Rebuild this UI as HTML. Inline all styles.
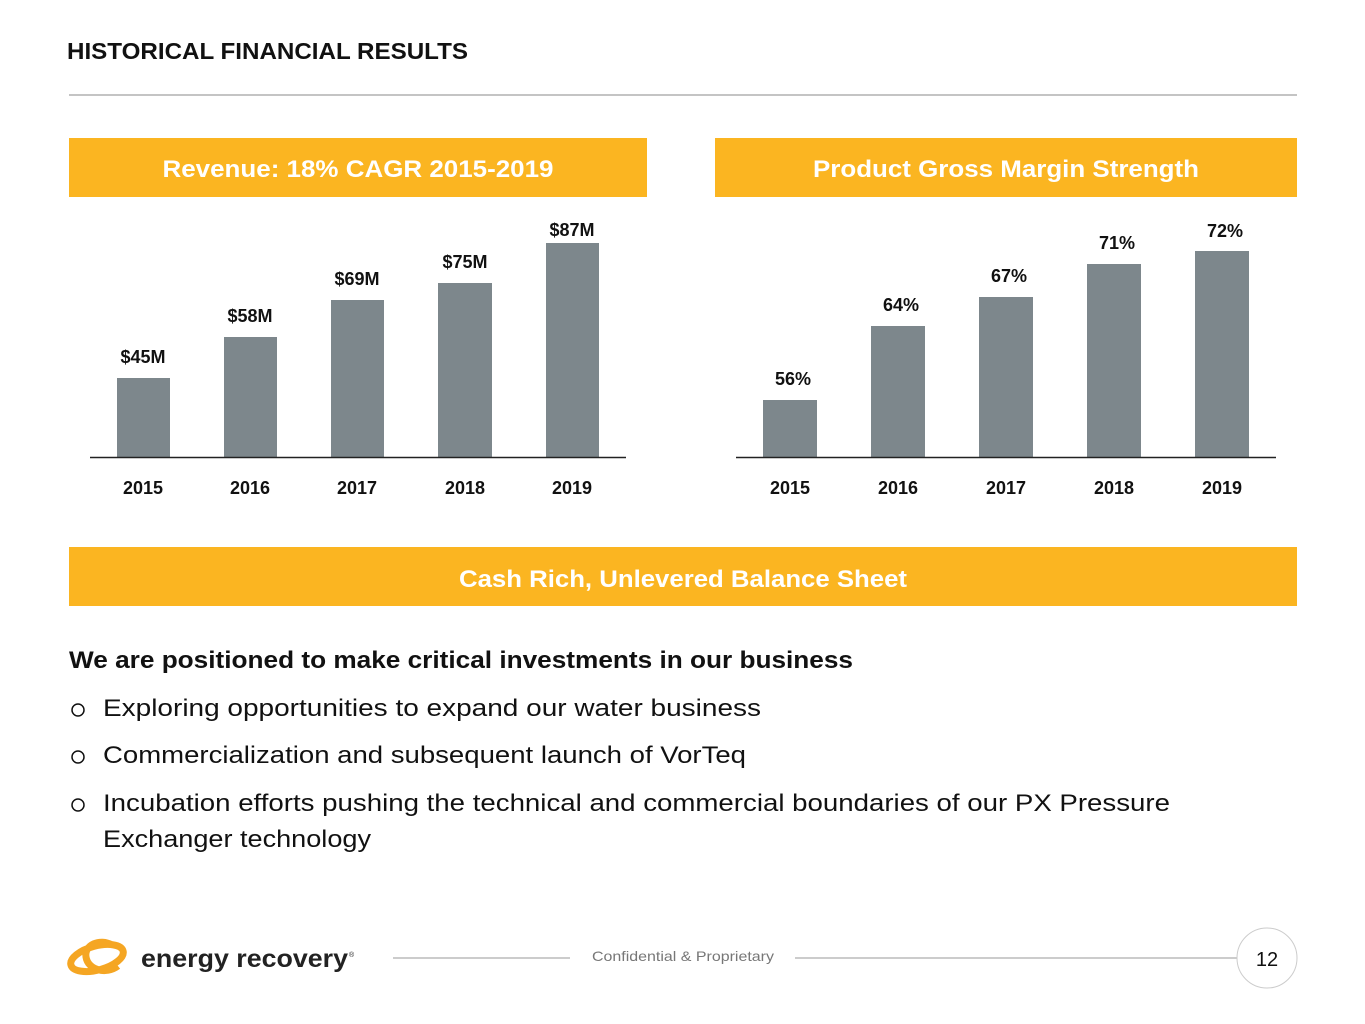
<!DOCTYPE html>
<html><head><meta charset="utf-8"><style>
html,body{margin:0;padding:0;background:#fff}
svg{display:block}
text{font-family:"Liberation Sans",sans-serif}
</style></head><body>
<svg width="1365" height="1024" viewBox="0 0 1365 1024" xmlns="http://www.w3.org/2000/svg">
<text x="67" y="59" font-size="23" font-weight="bold" fill="#111" textLength="401" lengthAdjust="spacingAndGlyphs">HISTORICAL FINANCIAL RESULTS</text>
<line x1="69" y1="95" x2="1297" y2="95" stroke="#b0b0b0" stroke-width="1.5"/>

<rect x="69" y="138" width="578" height="59" fill="#FBB521"/>
<rect x="715" y="138" width="582" height="59" fill="#FBB521"/>
<text x="358" y="177" font-size="24" font-weight="bold" fill="#fff" text-anchor="middle" textLength="391" lengthAdjust="spacingAndGlyphs">Revenue: 18% CAGR 2015-2019</text>
<text x="1006" y="177" font-size="24" font-weight="bold" fill="#fff" text-anchor="middle" textLength="386" lengthAdjust="spacingAndGlyphs">Product Gross Margin Strength</text>

<g fill="#7D878C">
<rect x="117" y="378" width="53" height="79"/>
<rect x="224" y="337" width="53" height="120"/>
<rect x="331" y="300" width="53" height="157"/>
<rect x="438" y="283" width="54" height="174"/>
<rect x="546" y="243" width="53" height="214"/>
<rect x="763" y="400" width="54" height="57"/>
<rect x="871" y="326" width="54" height="131"/>
<rect x="979" y="297" width="54" height="160"/>
<rect x="1087" y="264" width="54" height="193"/>
<rect x="1195" y="251" width="54" height="206"/>
</g>
<line x1="90" y1="457.5" x2="626" y2="457.5" stroke="#222" stroke-width="1.5"/>
<line x1="736" y1="457.5" x2="1276" y2="457.5" stroke="#222" stroke-width="1.5"/>

<g font-size="18" font-weight="bold" fill="#111" text-anchor="middle">
<text x="143" y="363">$45M</text>
<text x="250" y="322">$58M</text>
<text x="357" y="285">$69M</text>
<text x="465" y="268">$75M</text>
<text x="572" y="236">$87M</text>
<text x="793" y="385">56%</text>
<text x="901" y="311">64%</text>
<text x="1009" y="282">67%</text>
<text x="1117" y="249">71%</text>
<text x="1225" y="237">72%</text>
<text x="143" y="494">2015</text>
<text x="250" y="494">2016</text>
<text x="357" y="494">2017</text>
<text x="465" y="494">2018</text>
<text x="572" y="494">2019</text>
<text x="790" y="494">2015</text>
<text x="898" y="494">2016</text>
<text x="1006" y="494">2017</text>
<text x="1114" y="494">2018</text>
<text x="1222" y="494">2019</text>
</g>

<rect x="69" y="547" width="1228" height="59" fill="#FBB521"/>
<text x="683" y="587" font-size="24" font-weight="bold" fill="#fff" text-anchor="middle" textLength="448" lengthAdjust="spacingAndGlyphs">Cash Rich, Unlevered Balance Sheet</text>

<text x="69" y="668" font-size="24" font-weight="bold" fill="#111" textLength="784" lengthAdjust="spacingAndGlyphs">We are positioned to make critical investments in our business</text>
<g font-size="24" fill="#111">
<circle cx="78" cy="710" r="6" fill="none" stroke="#111" stroke-width="1.5"/>
<text x="103" y="716" textLength="658" lengthAdjust="spacingAndGlyphs">Exploring opportunities to expand our water business</text>
<circle cx="78" cy="757" r="6" fill="none" stroke="#111" stroke-width="1.5"/>
<text x="103" y="763" textLength="643" lengthAdjust="spacingAndGlyphs">Commercialization and subsequent launch of VorTeq</text>
<circle cx="78" cy="805" r="6" fill="none" stroke="#111" stroke-width="1.5"/>
<text x="103" y="811" textLength="1067" lengthAdjust="spacingAndGlyphs">Incubation efforts pushing the technical and commercial boundaries of our PX Pressure</text>
<text x="103" y="847" textLength="268" lengthAdjust="spacingAndGlyphs">Exchanger technology</text>
</g>

<!-- logo -->
<g fill="none" stroke="#F5A623" stroke-width="7">
<ellipse cx="97" cy="958" rx="27" ry="12" transform="rotate(-15 97 958)"/>
<path d="M112 945 C100 938 84 945 86 957 C88 970 106 975 118 966"/>
</g>
<text x="141" y="967" font-size="25" font-weight="bold" fill="#222" textLength="207" lengthAdjust="spacingAndGlyphs">energy recovery</text>
<text x="349" y="957" font-size="7" fill="#222">®</text>

<line x1="393" y1="958" x2="570" y2="958" stroke="#999" stroke-width="1"/>
<line x1="795" y1="958" x2="1238" y2="958" stroke="#999" stroke-width="1"/>
<text x="683" y="961" font-size="14" fill="#777" text-anchor="middle" textLength="182" lengthAdjust="spacingAndGlyphs">Confidential &amp; Proprietary</text>
<circle cx="1267" cy="958" r="30" fill="#fff" stroke="#ccc" stroke-width="1"/>
<text x="1267" y="966" font-size="20" fill="#111" text-anchor="middle">12</text>
</svg>
</body></html>
